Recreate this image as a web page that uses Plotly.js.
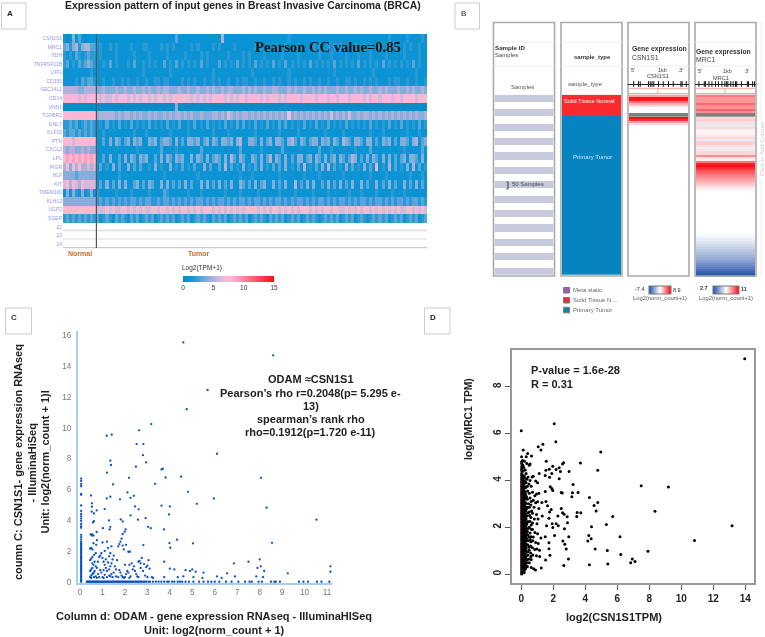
<!DOCTYPE html>
<html><head><meta charset="utf-8">
<script src="https://cdn.plot.ly/plotly-3.0.1.min.js"></script>
<style>html,body{margin:0;padding:0;background:#fff}#plot{width:765px;height:637px;filter:blur(.35px)}</style>
</head><body><div id="plot"></div>
<script>
// ---------- Panel A data ----------
const geneLabels=["CSN1S1","MRC1","XDH","TNFRSF11B","LIPG","CD150","SEC14L1","CD14","VNN1","TGFBR2","GNLY","KLF15","PTN","CXCL2","LPL","PIGR","HLF","KIT","TMEM100","KLHL2","UGP2","SGEP","22","23","24"];
const CSN1S1row="1014131011 1111111111 1111111111 1111111311 1111111111 1151111111 1111111111 1111211111 1111111111 1111111111 1111111211 1112111121";
const MRC1row="3424524553 3121121211 1121112211 1121212111 1121211112 1211112111 1112121211 2112111211 1121211212 1211112112 1211211212 1121211211";
const XDHrow="2121321232 2121111211 1112111121 1111211111 2111121211 1111211112 1211112111 1121111211 1111211121 1112111211 1211112111 1121111211";
const TNFRSF11Brow="2312132343 2112131211 1213112121 2113121312 1212131211 1312121312 1213121213 1213121212 1312121213 1212121312 1212131212 1212131211";
const LIPGrow="1111111112 1111111111 1111112111 1111121111 1111111112 1111111111 1121111111 1111211111 1111111112 1111111111 1121111111 1111112111";
const CD150row="1111213233 2112112112 1211211211 2212211112 1212112112 1211211212 2112112112 1211212112 1211211211 2112212112 1212111212 2112112112";
const SEC14L1row="5555544555 5445444544 5445445454 4545544454 4544544545 4454554445 4545445445 5444545445 4454545444 5445445454 4544545444 5445454454";
const CD14row="7877868678 7767667677 7676767767 6776767878 7767676767 7876767687 6778767687 7676878768 7876787678 6787687876 7687678768 7687876787";
const VNN1row="0000000000 0000000000 0000000000 0000000400 0000000000 0000000000 0000000000 0000000000 0000000000 0000000000 0000000000 0000000000";
const TGFBR2row="8888888888 8455555454 5545454454 5445454554 5454454445 5454654545 5454545454 5454745454 5454545464 5454644545 5454545454 5454545445";
const GNLYrow="2232312323 2121312131 2131212131 2121312131 1213121312 1213121313 1213121312 1313121213 1213121312 1213121212 1312121312 1312121312";
const KLF15row="3233232323 2112111111 1112111211 1111121111 1211111112 1111211111 1112111111 1211111211 1111112111 1121111111 1211121111 1112111211";
const PTNrow="8776878787 8113141431 3414341143 4134431413 1443413414 3144341451 1443141341 4431453143 1344143414 3154314431 4413143413 1443145134";
const CXCL2row="5455445454 4111111111 1111211111 1131111211 1111131111 1111111131 1111121111 1131111111 1111311121 1111112111 1311111111 1121111131";
const LPLrow="8979897989 8113141131 4143143411 3141431434 1141431413 4314153143 1143141351 4314131441 3414314134 1431354131 4143141413 1341443141";
const PIGRrow="5747575565 6131214131 1413131121 4121141213 1213114131 1315131214 1213141213 1314121315 1213141513 1214131214 1316121513 1214151312";
const HLFrow="4444344444 4111111121 1111111111 1112111111 1111211111 1111111121 1121111111 1211111112 1111211111 1121111111 1211112111 1111211121";
const KITrow="6757657666 6131413141 4113413143 1141413131 4131141413 1413141143 1314134114 1314115131 4141131413 1413141141 3114131413 1141314131";
const TMEM100row="1414214124 1211111211 1121111121 1113211111 1211121111 1112111121 1111211111 1211112111 1121111211 1111211121 1112111121 1121111111";
const KLHL2row="4444444444 4232323232 3233232332 2323323232 3232332323 2332323233 2323323232 3323232332 3232332323 2332323233 2323323232 3323233232";
const UGP2row="8788878887 8666767667 7676767667 7677676767 7676767876 7676767676 7787676767 7676767687 7676767767 7667676767 7676767676 7667767676";
const SGEProw="2323232323 2312321323 2132312323 1232323123 2312323213 2323123232 3123232132 3231232312 3232123232 3123231232 1232323123 2312323123";
const heatRows=[CSN1S1row,MRC1row,XDHrow,TNFRSF11Brow,LIPGrow,CD150row,SEC14L1row,CD14row,VNN1row,TGFBR2row,GNLYrow,KLF15row,PTNrow,CXCL2row,LPLrow,PIGRrow,HLFrow,KITrow,TMEM100row,KLHL2row,UGP2row,SGEProw];
const tpmTicks=[0,5,10,15];

// ---------- Panel B data ----------
const sampleStripes=[1,0,1,0,1,0,1,0,1,0,1,0,1,0,1,0,1,0,1,0,1,0,1,0,1];
const sampleTypeEdges=[0,143,1218];
const sampleTypeCodes=[1,0];
const csn1s1Binned=[4,8.6,8.4,5.5,3.5,2,.75,.75,.75,null,null,8.8,7.6,4,2,.75,.75,.75,.75,.75,.75,.75,.75,.75,.75,.75,.75,.75,.75,.75,.75,.75,.75,.75,.75,.75,.75,.75,.75,.75,.75,.75,.75,.75,.75,.75,.75,.75,.75,.75,.75,.75,.75,.75,.75,.75,.75,.75,.75,.75,.75,.75,.75,.75,.75,.75,.75,.75,.75,.75,.75,.75,.75,.75,.75,.75,.75,.75,.75,.75,.75,.75,.75,.75,.75,.75,.75,.75,.75,.75,.75];
const mrc1Binned=[9.1,8.6,8.7,8.6,9.4,8.8,8.7,9.5,8.7,null,null,7.5,7.7,7.4,6.3,7.3,7.5,7.1,7.05,7.1,7.3,7.5,6.4,7.6,7.7,7.4,6.5,7.3,7.5,7.5,8.8,7.4,7.05,9.2,10.7,10.9,10.5,10,9.6,9.3,9,8.7,8.4,8.1,7.8,7.5,7.2,7,6.85,6.85,6.85,6.85,6.85,6.85,6.85,6.85,6.85,6.85,6.85,6.85,6.85,6.85,6.85,6.85,6.85,6.85,6.85,6.85,6.85,6.8,6.7,6.55,6.4,6.25,6.1,5.95,5.8,5.6,5.45,5.3,5.1,4.95,4.75,4.55,4.3,4.05,3.8,3.5,3.2,2.95,2.7];
const csn1s1Exons=[-.42,-.34,-.31,-.17,-.14,-.11,-.08,0,.08,.17,.25,.38,.4,.47];
const mrc1Exons=[-.45,-.36,-.34,-.28,-.23,-.17,-.12,-.06,-.01,.02,.04,.09,.13,.17,.19,.27,.37,.39,.46,.49];

// ---------- Panel C data ----------
const cPoints=[[4.6,15.54],[8.6,14.7],[5.68,12.45],[4.75,11.2],[3.17,10.24],[2.63,9.83],[1.19,9.48],[1.41,9.55],[2.52,8.94],[2.82,8.94],[2.8,8.22],[6.1,8.31],[2.94,7.75],[1.35,7.86],[1.38,7.58],[2.49,7.47],[1.2,7.08],[3.63,7.29],[3.69,7.34],[2.18,6.75],[3.81,6.77],[4.5,6.82],[8.06,6.75],[1.47,6.32],[3.34,6.36],[4.81,5.84],[2.11,5.8],[2.4,5.58],[2.25,5.45],[1.35,5.52],[1.19,5.41],[1.78,5.35],[.49,5.6],[.53,5.09],[.53,4.87],[5.96,5.41],[5.2,5.06],[3.63,4.94],[4.0,4.89],[2.45,4.89],[2.61,4.7],[1.1,4.72],[.74,4.63],[.52,4.55],[.62,4.44],[8.31,4.81],[3.96,4.37],[2.25,4.31],[2.92,4.13],[2.58,4.03],[1.29,3.98],[1.81,4.05],[1.9,3.92],[.62,3.94],[.58,3.85],[10.53,4.03],[3.03,3.57],[3.15,3.48],[1.35,3.57],[1.32,3.4],[1.02,3.48],[3.74,3.4],[2.03,3.4],[1.99,3.25],[.74,3.23],[.47,3.07],[.55,3.07],[1.9,3.1],[4.32,2.73],[3.98,2.51],[4.02,2.21],[5.03,2.49],[8.55,2.53],[2.82,2.38],
[.45,.3],[.5,.4],[.55,.5],[.6,.6],[.65,.7],[.45,.7],[.5,.8],[.55,.9],[.6,.55],[.7,.35],[.75,.25],[.5,.25],[.62,.3],[.45,1.4],[.5,1.5],[.55,1.6],[.62,1.75],[.7,1.85],[.55,1.2],[.6,1.1],[.7,1.0],[.75,.9],[.8,.5],[.85,.3],[.9,.75],[.95,.6],[.45,2.15],[.5,2.2],[.55,2.1],[.6,2.5],[.72,2.4],[.75,2.7],[.53,3.0],[.6,3.0],[.9,1.7],[.95,1.85],[1.0,1.55],[1.05,1.3],[1.1,1.1],[1.15,.9],[1.2,.7],[1.0,.3],[1.05,.25],[1.1,.45],[1.2,.3],[1.3,.4],[1.35,.35],[1.4,.5],[1.45,.3],[1.5,.6],[1.3,.8],[1.35,1.0],[1.4,1.2],[1.45,1.45],[1.55,1.0],[1.6,.8],[1.0,2.55],[1.2,2.6],[1.25,2.2],[1.4,2.3],[1.1,2.0],[1.35,1.85],[1.5,1.7],[1.65,1.4],[1.75,.75],[1.8,.6],[1.85,.4],[1.9,.3],[1.95,.25],[2.0,.3],[2.05,.5],[2.1,.7],[2.15,.6],[2.2,.25],[2.25,.35],[1.7,2.3],[1.75,2.45],[1.8,2.6],[1.85,2.8],[1.95,2.1],[2.05,2.4],[1.9,2.35],[2.15,1.95],[2.22,1.95],[2.2,1.1],[2.3,1.2],[2.35,.8],[2.45,.7],[2.5,.5],[2.55,.35],[2.6,1.3],[2.65,1.35],[2.7,1.2],[2.75,1.55],[2.8,.7],[2.85,1.15],[2.9,.4],[3.0,1.05],[3.05,1.4],[3.1,.85],[3.2,.3],[3.25,.25],[2.95,.95],[3.0,.3],[2.4,1.0],[2.7,.9],[2.6,.3],[2.0,1.1],[1.6,.35],[1.7,.3],[1.05,.75],[.8,1.3],[.85,1.6],[.65,1.3],[1.25,1.25],[1.3,1.65],[1.15,1.45],
[4.0,.85],[4.2,.8],[3.75,1.3],[4.7,.75],[5.0,.8],[5.15,.65],[4.9,.7],[5.5,.6],[6.1,.35],[6.3,.25],[6.55,.55],[6.85,1.2],[6.9,.35],[7.5,1.3],[7.9,.9],[8.0,1.45],[8.05,1.0],[8.2,.7],[7.85,.35],[8.15,.3],[9.25,.55],[11.15,1.0],[11.15,.65],[3.75,.3],[4.35,.3],[4.6,.35],[5.05,.3],[5.45,.25]];
const cLeftColumnY=[6.7,6.55,6.35,6.2,5.7,5.65,4.95,4.6,4.4,4.25,4.1,3.95,3.75,3.6,3.5,3.05,2.9,2.75,2.6,2.5,2.42,2.33,2.25,2.16,2.08,2,1.92,1.83,1.75,1.66,1.58,1.5,1.42,1.33,1.25,1.16,1.08,1,.92,.83,.75,.66,.58,.5,.42,.33,.25,.16,.08,0];
const cBottomRowX=[.3,.33,.37,.4,.44,.48,.52,.55,.6,.64,.68,.72,.77,.8,.85,.9,.94,1,1.04,1.09,1.13,1.18,1.23,1.27,1.32,1.37,1.42,1.46,1.52,1.57,1.62,1.66,1.71,1.76,1.82,1.87,1.92,1.97,2.02,2.08,2.13,2.18,2.23,2.28,2.34,2.39,2.45,2.5,2.56,2.62,2.68,2.75,2.82,2.88,2.95,3.05,3.12,3.25,3.38,3.5,3.62,3.75,3.88,3.95,4.1,4.2,4.35,4.45,4.55,4.7,4.85,5.05,5.3,5.5,5.7,5.85,6,6.2,6.5,6.75,7.05,7.35,7.55,7.65,7.95,8.1,8.5,8.65,8.72,8.9,9.75,9.95,10.15,10.55,10.75,11.1];
const cXTicks=[0,1,2,3,4,5,6,7,8,9,10,11];
const cYTicks=[0,2,4,6,8,10,12,14,16];

// ---------- Panel D data ----------
const dPoints=[[13.97,9.2],[2.06,6.42],[0,6.12],[2.16,5.65],[1.35,5.55],[1.06,5.44],[1.23,5.3],[4.97,5.21],[.12,5.3],[.4,5.15],[.64,5.04],[.31,5.01],[.02,5.01],[1.56,4.82],[4.78,4.44],[3.7,4.74],[2.64,4.75],[2.58,4.7],[1.97,4.61],[1.54,4.44],[1.75,4.48],[2.18,4.47],[2.37,4.54],[2.45,4.38],[2.99,4.38],[1.91,4.3],[1.12,4.3],[1.5,4.21],[1.77,4.14],[2.37,4.07],[3.24,3.83],[7.5,3.77],[9.2,3.72],[1.81,3.73],[1.91,3.66],[1.97,3.57],[1.5,3.53],[2.5,3.49],[2.56,3.46],[3.2,3.47],[3.55,3.49],[3.16,3.3],[4.26,3.27],[4.78,3.06],[4.55,2.93],[1.54,3.1],[1.29,3.06],[1.02,3.09],[1.64,2.92],[2.5,2.8],[1.87,2.76],[1.77,2.65],[8.36,2.68],[4.68,2.69],[3.49,2.63],[3.72,2.62],[2.58,2.62],[2.68,2.56],[2.87,2.45],[2.29,2.48],[3.47,2.46],[5.72,2.46],[1.73,2.38],[1.31,2.48],[2.89,2.19],[1.93,2.15],[2.18,2.15],[2.31,2.06],[1.58,2.06],[1.97,1.99],[5.32,2.12],[4.39,2.02],[13.18,2.06],[2.7,1.94],[6.17,1.59],[2.97,1.59],[2.08,1.65],[4.22,1.65],[1.5,1.59],[1.23,1.54],[4.37,1.51],[10.83,1.44],[4.16,1.41],[2.6,1.41],[1.73,1.34],[2.72,1.27],[1.06,1.31],[1.73,1.08],[2.81,1.07],[4.62,1.07],[5.38,1.01],[7.92,.98],[.98,1.07],[1.14,1.02],[1.79,.81],[6.22,.84],[2.95,.65],[1.52,.6],[6.94,.65],[7.11,.54],[6.84,.48],[4.26,.4],[5.41,.43],[2.66,.37],[1.25,.26],[.62,.28],[.77,.23],[.89,.17],
[.08,4.85],[.2,4.82],[.35,4.72],[.5,4.65],[.55,4.7],[.15,4.55],[.25,4.45],[.1,4.4],[.3,4.3],[.18,4.2],[.42,4.15],[.68,4.15],[.75,4.18],[.35,4.05],[.55,4.0],[.9,3.98],[1.02,3.9],[.22,3.95],[.48,3.85],[.62,3.75],[.28,3.7],[.15,3.6],[.4,3.55],[.7,3.5],[.95,3.42],[.85,3.35],[1.1,3.45],[.2,3.4],[.33,3.3],[.55,3.25],[.75,3.15],[.9,3.05],[.15,3.15],[.28,3.05],[.45,3],[.6,2.95],[.38,2.85],[.18,2.8],[.8,2.85],[1.1,2.8],[.28,2.7],[.5,2.65],[.7,2.6],[.95,2.55],[.15,2.55],[.35,2.48],[.6,2.42],[.82,2.35],[1.05,2.35],[.22,2.3],[.42,2.25],[.7,2.18],[.98,2.15],[.15,2.1],[.3,2.05],[.5,2],[.62,1.92],[.2,1.9],[.38,1.82],[.85,1.78],[1.02,1.72],[.15,1.7],[.28,1.62],[.5,1.6],[.75,1.58],[.2,1.5],[.42,1.42],[.6,1.38],[.9,1.35],[.15,1.3],[.32,1.22],[.48,1.15],[.7,1.12],[.85,1.05],[.22,1.05],[.4,.95],[.58,.9],[.72,.82],[.95,.78],[1.15,.75],[.15,.85],[.3,.75],[.48,.65],[.62,.62],[.2,.55],[.38,.48],[.12,.4],[.28,.3],[.18,.15],[.1,.22],
[.24,4.1],[.12,3.85],[.3,3.9],[.16,3.72],[.38,3.75],[.24,3.5],[.5,3.45],[.12,3.35],[.38,3.2],[.24,3.22],[.62,3.1],[.1,3.05],[.22,2.95],[.5,2.85],[.32,2.78],[.12,2.68],[.42,2.62],[.65,2.7],[.22,2.5],[.52,2.5],[.12,2.42],[.3,2.35],[.55,2.25],[.18,2.22],[.35,2.15],[.62,2.1],[.1,2],[.25,1.95],[.42,1.95],[.7,1.9],[.12,1.82],[.3,1.78],[.55,1.75],[.22,1.68],[.4,1.68],[.62,1.6],[.1,1.6],[.35,1.52],[.55,1.48],[.12,1.42],[.28,1.4],[.72,1.42],[.22,1.25],[.4,1.25],[.58,1.2],[.12,1.18],[.3,1.08],[.5,1.02],[.12,.98],[.22,.9],[.42,.82],[.6,.75],[.12,.72],[.22,.68],[.38,.62],[.12,.55],[.28,.5],[.5,.48],[.22,.38],[.38,.32],[.1,.12]];
const dZeroY=[4.8,4.72,4.6,4.5,4.42,4.3,4.22,4.12,4.05,3.97,3.9,3.82,3.75,3.68,3.6,3.52,3.45,3.38,3.3,3.22,3.15,3.07,3,2.92,2.85,2.78,2.7,2.62,2.55,2.47,2.4,2.33,2.25,2.18,2.1,2.03,1.95,1.88,1.8,1.73,1.65,1.58,1.5,1.43,1.35,1.28,1.2,1.13,1.05,.98,.9,.83,.75,.68,.6,.53,.45,.38,.3,.23,.15,.08,0];
const dNearZeroY=[4.65,4.4,4.2,4.02,3.85,3.7,3.55,3.4,3.25,3.12,2.98,2.85,2.72,2.6,2.5,2.38,2.28,2.18,2.08,1.98,1.88,1.78,1.68,1.58,1.48,1.38,1.28,1.18,1.08,.98,.88,.78,.68,.58,.48,.38,.28,.18,.08];
const dBandAY=[4.1,3.95,3.82,3.68,3.56,3.44,3.3,3.18,3.08,2.96,2.84,2.74,2.62,2.52,2.42,2.3,2.22,2.1,2.02,1.92,1.82,1.74,1.64,1.54,1.46,1.36,1.26,1.16,1.06,.96,.86,.78,.66,.56,.46,.36,.26,.14,.06];
const dBandBY=[3.4,3.22,3.02,2.86,2.7,2.56,2.44,2.32,2.2,2.08,1.96,1.86,1.72,1.62,1.52,1.42,1.3,1.2,1.1,1,.88,.76,.64,.52,.4,.24];
const dXTicks=[0,2,4,6,8,10,12,14];
const dYTicks=[0,2,4,6,8];

// ---------- Layout helpers (pixel box -> paper fractions) ----------
const W=765,H=637;
const dx=(a,b)=>[a/W,b/W], dy=(a,b)=>[1-b/H,1-a/H];
const px=a=>a/W, py=a=>1-a/H;
const FONT="Liberation Sans, Arial, sans-serif";
const hidden={showticklabels:false,showgrid:false,zeroline:false,ticks:"",showline:false};
const ann=(text,x,y,o={})=>Object.assign({xref:"paper",yref:"paper",x:px(x),y:py(y),text,showarrow:false,xanchor:"left",yanchor:"middle",align:"left",borderpad:0},o,
  {font:Object.assign({family:FONT,size:7,color:"#444"},o.font||{})});
const rect=(x0,y0,x1,y1,line,fill,w=1)=>({type:"rect",xref:"paper",yref:"paper",x0:px(x0),x1:px(x1),y0:py(y0),y1:py(y1),line:{color:line,width:w},fillcolor:fill||"rgba(0,0,0,0)"});
const seg=(x0,y0,x1,y1,c,w=1)=>({type:"line",xref:"paper",yref:"paper",x0:px(x0),x1:px(x1),y0:py(y0),y1:py(y1),line:{color:c,width:w}});

const tpmScale=[[0,"#0a8ccb"],[.067,"#0c93d3"],[.133,"#2a9ad5"],[.2,"#58a5d8"],[.267,"#86aeda"],[.333,"#b1b0d8"],[.4,"#d6b8da"],[.467,"#f0bcd8"],[.533,"#ffb6d2"],[.6,"#ff9fbd"],[1,"#ff0a1e"]];
const bwr=[[0,"#1f4fa8"],[.5,"#ffffff"],[1,"#ff0a14"]];
const parseRow=s=>s.replace(/ /g,"").split("").map(Number);
const rowIdx=a=>a.map((_,i)=>i);
const barCfg=(x,y,len,thick)=>({orientation:"h",x:px(x),xanchor:"left",y:py(y),yanchor:"top",lenmode:"pixels",len,thicknessmode:"pixels",thickness:thick,xpad:0,ypad:0,outlinewidth:1,outlinecolor:"#777",ticks:""});

const traces=[
 {type:"heatmap",xaxis:"x",yaxis:"y",z:heatRows.map(parseRow),y:rowIdx(heatRows),zmin:0,zmax:15,colorscale:tpmScale,hoverinfo:"skip",
  colorbar:Object.assign(barCfg(183,275.5,91,6),{outlinewidth:0,tickvals:tpmTicks,tickfont:{family:FONT,size:6.5,color:"#333"}})},
 {type:"heatmap",xaxis:"x2",yaxis:"y2",z:sampleStripes.map(v=>[v]),zmin:0,zmax:1,colorscale:[[0,"#ffffff"],[1,"#c9c9de"]],showscale:false,hoverinfo:"skip"},
 {type:"heatmap",xaxis:"x3",yaxis:"y3",z:sampleTypeCodes.map(v=>[v]),y:sampleTypeEdges,zmin:0,zmax:1,colorscale:[[0,"#0684bf"],[1,"#fb2a2e"]],showscale:false,hoverinfo:"skip"},
 {type:"heatmap",xaxis:"x4",yaxis:"y4",z:csn1s1Binned.map(v=>[v]),zmin:-7.4,zmax:8.9,colorscale:bwr,hoverinfo:"skip",hoverongaps:false,
  colorbar:Object.assign(barCfg(649,285.7,22,8),{showticklabels:false})},
 {type:"heatmap",xaxis:"x5",yaxis:"y5",z:mrc1Binned.map(v=>[v]),zmin:2.7,zmax:11,colorscale:bwr,hoverinfo:"skip",hoverongaps:false,
  colorbar:Object.assign(barCfg(713,285.7,26,8),{showticklabels:false})},
 {type:"scatter",mode:"markers",xaxis:"x4",yaxis:"y4",x:csn1s1Exons,y:csn1s1Exons.map(()=>-5.85),marker:{symbol:"line-ns",size:4,line:{width:1,color:"#111"}},hoverinfo:"skip"},
 {type:"scatter",mode:"markers",xaxis:"x5",yaxis:"y5",x:mrc1Exons,y:mrc1Exons.map(()=>-5.85),marker:{symbol:"line-ns",size:4,line:{width:1,color:"#111"}},hoverinfo:"skip"},
 {type:"scatter",mode:"markers",xaxis:"x6",yaxis:"y6",x:cPoints.map(p=>p[0]).concat(cLeftColumnY.map(()=>.05),cBottomRowX),y:cPoints.map(p=>p[1]).concat(cLeftColumnY,cBottomRowX.map(()=>0)),marker:{size:2.3,color:"#0b50c4"},hoverinfo:"skip"},
 {type:"scatter",mode:"markers",xaxis:"x7",yaxis:"y7",x:dPoints.map(p=>p[0]).concat(dZeroY.map(()=>.02),dNearZeroY.map(()=>.1),dBandAY.map(()=>.18),dBandBY.map(()=>.27)),y:dPoints.map(p=>p[1]).concat(dZeroY,dNearZeroY,dBandAY,dBandBY),marker:{size:3,color:"#000"},hoverinfo:"skip"},
 {type:"scatter",mode:"markers",xaxis:"x7",yaxis:"y7",x:dZeroY.map(()=>-.03),y:dZeroY,marker:{size:1.2,color:"#8b2a10"},hoverinfo:"skip"}
];

const annotations=[
 ann("<b>Expression pattern of input genes in Breast Invasive Carcinoma (BRCA)</b>",242.5,5,{xanchor:"center",font:{size:10.4,color:"#222"}}),
 ann("<b>A</b>",6,13.5,{font:{size:8,color:"#222"}}),
 ann("<b>Pearson CC value=0.85</b>",328,47,{xanchor:"center",font:{family:"Liberation Serif, serif",size:14.6,color:"#111"}}),
 ann("<b>Normal</b>",66.5,253.5,{font:{size:7,color:"#c8692a"}}),
 ann("<b>Tumor</b>",187,253,{font:{size:7,color:"#c8692a"}}),
 ann("Log2(TPM+1)",181,268.5,{font:{size:6.5,color:"#333"}}),
 // panel B
 ann("B",460,13.5,{font:{size:8,color:"#222"}}),
 ann("<b>Sample ID</b>",493.5,47,{font:{size:6.2,color:"#333"}}),
 ann("Samples",493.5,55,{font:{size:6,color:"#444"}}),
 ann("Samples",510,87.5,{font:{size:6,color:"#555"}}),
 ann("50 Samples",511,184.5,{font:{size:6,color:"#444"}}),
 ann("<b>sample_type</b>",592,57,{xanchor:"center",font:{size:6,color:"#333"}}),
 ann("sample_type",585,83.5,{xanchor:"center",font:{size:6,color:"#555"}}),
 ann("Solid Tissue Normal",563,101,{font:{size:5.7,color:"#fff"}}),
 ann("Primary Tumor",592,157,{xanchor:"center",font:{size:6,color:"#cfe6f5"}}),
 ann("<b>Gene expression</b>",630.5,48.5,{font:{size:6.8,color:"#333"}}),
 ann("CSN1S1",630.5,57,{font:{size:6.8,color:"#444"}}),
 ann("5'",630,70,{font:{size:5.5}}), ann("1kb",657,70,{font:{size:5.5}}), ann("3'",677.5,70,{font:{size:5.5}}),
 ann("CSN1S1",657.5,76,{xanchor:"center",font:{size:5.6}}),
 ann("<b>Gene expression</b>",695,51.5,{font:{size:6.8,color:"#333"}}),
 ann("MRC1",695,60,{font:{size:6.8,color:"#444"}}),
 ann("5'",697,71,{font:{size:5.5}}), ann("1kb",722,71,{font:{size:5.5}}), ann("3'",744,71,{font:{size:5.5}}),
 ann("MRC1",720.5,78,{xanchor:"center",font:{size:5.6}}),
 ann("Click to Add Column",762,149,{xanchor:"center",textangle:-90,font:{size:6,color:"#ccc"}}),
 ann("Meta static",572,290,{font:{size:6,color:"#666"}}),
 ann("Solid Tissue N....",572,300,{font:{size:6,color:"#666"}}),
 ann("Primary Tumor",572,309.5,{font:{size:6,color:"#666"}}),
 ann("-7.4",634,288.5,{font:{size:5.5,color:"#333"}}), ann("8.9",672,289.5,{font:{size:5.5,color:"#333"}}),
 ann("Log2(norm_count+1)",632,298,{font:{size:5.8,color:"#555"}}),
 ann("<b>2.7</b>",699,288,{font:{size:5.5,color:"#333"}}), ann("<b>11</b>",740,289,{font:{size:5.5,color:"#333"}}),
 ann("Log2(norm_count+1)",698,298,{font:{size:5.8,color:"#555"}}),
 // panel C
 ann("<b>C</b>",10,318,{font:{size:8,color:"#333"}}),
 ann("<b>ODAM ≈CSN1S1</b>",310.5,379,{xanchor:"center",font:{size:11,color:"#222"}}),
 ann("<b>Pearson’s rho r=0.2048(p= 5.295 e-</b>",310.5,392.5,{xanchor:"center",font:{size:11,color:"#222"}}),
 ann("<b>13)</b>",310.5,406,{xanchor:"center",font:{size:11,color:"#222"}}),
 ann("<b>spearman’s rank rho</b>",310.5,419,{xanchor:"center",font:{size:11,color:"#222"}}),
 ann("<b>rho=0.1912(p=1.720 e-11)</b>",310.5,432.5,{xanchor:"center",font:{size:11,color:"#222"}}),
 ann("<b>Column d: ODAM - gene expression RNAseq - IlluminaHISeq</b>",214,616,{xanchor:"center",font:{size:11,color:"#222"}}),
 ann("<b>Unit: log2(norm_count + 1)</b>",214,629.5,{xanchor:"center",font:{size:11,color:"#222"}}),
 ann("<b>coumn C: CSN1S1- gene expression RNAseq</b>",18,462,{xanchor:"center",textangle:-90,font:{size:11,color:"#222"}}),
 ann("<b>- IlluminaHiSeq</b>",31.5,463,{xanchor:"center",textangle:-90,font:{size:11,color:"#222"}}),
 ann("<b>Unit: log2(norm_count + 1)l</b>",44.5,462,{xanchor:"center",textangle:-90,font:{size:11,color:"#222"}}),
 // panel D
 ann("<b>D</b>",429,318,{font:{size:8,color:"#222"}}),
 ann("<b>P-value = 1.6e-28</b>",530,370,{font:{size:11,color:"#222"}}),
 ann("<b>R = 0.31</b>",530,383.5,{font:{size:11,color:"#222"}}),
 ann("<b>log2(CSN1S1TPM)</b>",614,617,{xanchor:"center",font:{size:11,color:"#222"}}),
 ann("<b>log2(MRC1 TPM)</b>",468,419,{xanchor:"center",textangle:-90,font:{size:10.3,color:"#222"}})
];

const labelBox=c=>rect(c[0],c[1],c[2],c[3],"#ccc");
const boxes=[[1.5,3,26,29],[455,3,479.5,29],[5.5,308,31.5,334],[424.5,308,450,334]].map(labelBox);
const colFrames=[[493.5,22.5,554.5,276],[561,22.5,622,276],[628,22.5,689,276],[695,22.5,756,276]];
const shapes=boxes.concat(
 colFrames.map(c=>rect(c[0],c[1],c[2],c[3],"#aaa",null,1.6)),
 colFrames.flatMap(c=>[seg(c[0],42,c[2],42,"#eee"),seg(c[0],66,c[2],66,"#eee")]),
 [
 seg(63,230.5,427,230.5,"#ddd",1.5),seg(63,239,427,239,"#ddd",1),seg(63,247.7,427,247.7,"#bbb",1),
 seg(96.4,34,96.4,248,"#555",1.2),
 seg(628,84.5,689,84.5,"#222",1),seg(695,84.5,756,84.5,"#222",1),
 seg(629,88.3,688,88.3,"#f7a0a0"),seg(629,93.5,688,93.5,"#f7a0a0"),seg(658,88.3,658,93.5,"#f7a0a0"),
 seg(696,88.3,755,88.3,"#f7a0a0"),seg(696,93.5,755,93.5,"#f7a0a0"),seg(725,88.3,725,93.5,"#f7a0a0"),
 Object.assign(rect(629,112.7,688,116.7,"rgba(0,0,0,0)","#808080",0),{layer:"below"}),
 Object.assign(rect(696,112.7,755,116.7,"rgba(0,0,0,0)","#808080",0),{layer:"below"}),
 seg(508,182,508,189,"#333"),seg(506.5,182,508,182,"#333"),seg(506.5,189,508,189,"#333"),
 rect(563.5,287.5,569.5,293,"#777","#9a5fb0"),rect(563.5,297.5,569.5,303,"#777","#f02a2e"),rect(563.5,307.3,569.5,312.8,"#777","#0684bf"),
 seg(761,22,761,120,"#eee"),seg(761,180,761,276,"#eee")
 ]);

const geneRange=[90.5,-7.85];
const layout={
 width:W,height:H,margin:{l:0,r:0,t:0,b:0,autoexpand:false},paper_bgcolor:"#fff",plot_bgcolor:"rgba(0,0,0,0)",showlegend:false,font:{family:FONT},hovermode:false,
 xaxis:Object.assign({},hidden,{domain:dx(63,427),range:[-.5,119.5]}),
 yaxis:Object.assign({},hidden,{domain:dy(34,248.2),range:[24.5,-.5],showticklabels:true,tickmode:"array",tickvals:rowIdx(geneLabels),ticktext:geneLabels,tickfont:{family:FONT,size:5,color:"#9195ee"}}),
 xaxis2:Object.assign({},hidden,{anchor:"y2",domain:dx(494.5,553.5),range:[-.5,.5]}),
 yaxis2:Object.assign({},hidden,{anchor:"x2",domain:dy(94.7,275),range:[24.5,-.5]}),
 xaxis3:Object.assign({},hidden,{anchor:"y3",domain:dx(562,621),range:[-.5,.5]}),
 yaxis3:Object.assign({},hidden,{anchor:"x3",domain:dy(94.7,275),range:[1218,0]}),
 xaxis4:Object.assign({},hidden,{anchor:"y4",domain:dx(629,688),range:[-.5,.5]}),
 yaxis4:Object.assign({},hidden,{anchor:"x4",domain:dy(80,276.7),range:geneRange}),
 xaxis5:Object.assign({},hidden,{anchor:"y5",domain:dx(696,755),range:[-.5,.5]}),
 yaxis5:Object.assign({},hidden,{anchor:"x5",domain:dy(80,276.7),range:geneRange}),
 xaxis6:{anchor:"y6",domain:dx(78,332),range:[-.09,11.22],tickvals:cXTicks,showgrid:false,zeroline:false,showline:true,linecolor:"#a9cdee",linewidth:2,ticks:"",tickfont:{family:FONT,size:8.2,color:"#777"}},
 yaxis6:{anchor:"x6",domain:dy(331,583),range:[-.08,16.28],tickvals:cYTicks,showgrid:false,zeroline:false,showline:true,linecolor:"#a9cdee",linewidth:2,ticks:"outside",ticklen:3,tickcolor:"rgba(0,0,0,0)",tickfont:{family:FONT,size:8.2,color:"#777"}},
 xaxis7:{anchor:"y7",domain:dx(512,754),range:[-.58,14.55],tickvals:dXTicks,showgrid:false,zeroline:false,showline:true,mirror:true,linecolor:"#999",linewidth:2,ticks:"outside",ticklen:5,tickcolor:"#555",tickfont:{family:FONT,size:10,color:"#222",weight:"bold"}},
 yaxis7:{anchor:"x7",domain:dy(350,583),range:[-.38,9.57],tickvals:dYTicks,showgrid:false,zeroline:false,showline:true,mirror:true,linecolor:"#999",linewidth:2,ticks:"outside",ticklen:5,tickcolor:"#555",tickangle:-90,tickfont:{family:FONT,size:10,color:"#222",weight:"bold"}},
 shapes,annotations
};
Plotly.newPlot("plot",traces,layout,{displayModeBar:false,staticPlot:true});
</script></body></html>
